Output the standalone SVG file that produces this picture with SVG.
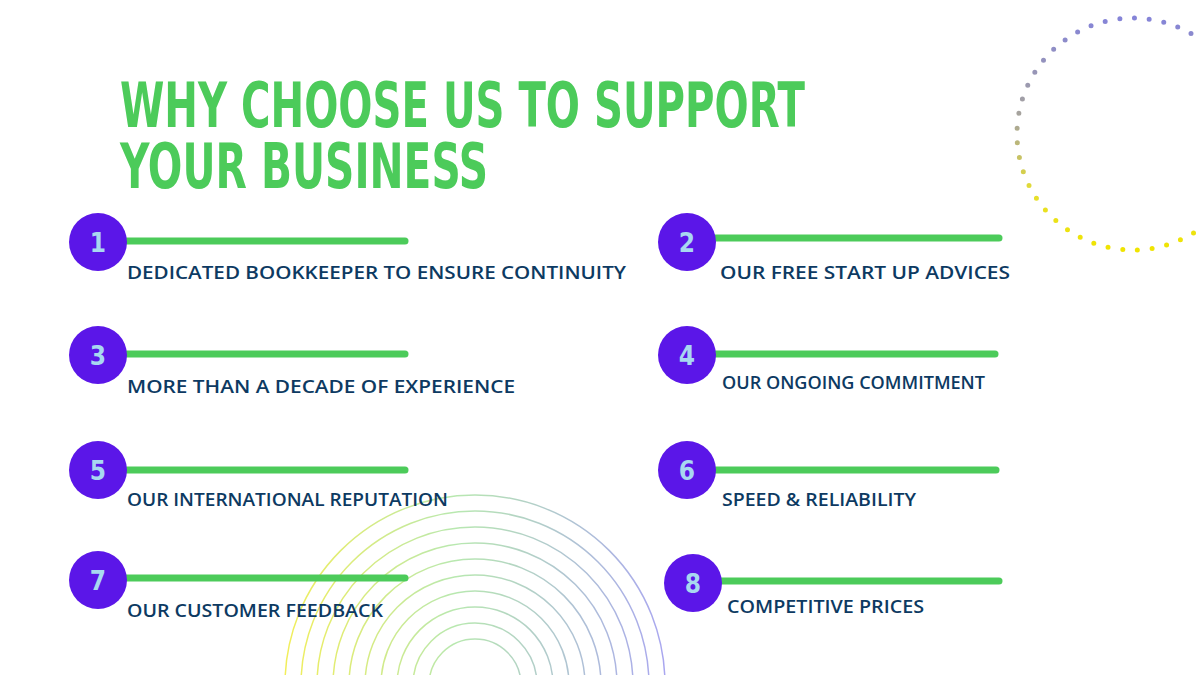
<svg xmlns="http://www.w3.org/2000/svg" width="1200" height="675" viewBox="0 0 1200 675">
<defs>
<linearGradient id="arcg" x1="285" y1="0" x2="665" y2="0" gradientUnits="userSpaceOnUse">
<stop offset="0" stop-color="#f2ee5a"/><stop offset="0.45" stop-color="#b8e8b0"/><stop offset="1" stop-color="#a9a6f0"/>
</linearGradient>
<linearGradient id="dotg" x1="0" y1="18" x2="0" y2="250" gradientUnits="userSpaceOnUse">
<stop offset="0" stop-color="#8584d8"/><stop offset="0.45" stop-color="#a9a698"/><stop offset="0.75" stop-color="#e6df30"/><stop offset="1" stop-color="#f0e400"/>
</linearGradient>
<style>
.t{font-family:"DejaVu Sans Condensed","DejaVu Sans",sans-serif;font-weight:bold;fill:#4ccb5a;font-size:62px}
.c{fill:#5b16e8}
.n{font-family:"DejaVu Sans Condensed","DejaVu Sans",sans-serif;font-weight:bold;fill:#a8d8f0;font-size:26px;text-anchor:middle}
.l{stroke:#4ccb5a;stroke-width:7;stroke-linecap:round}
.x{font-family:"Open Sans",sans-serif;font-weight:600;fill:#0d3a62;font-size:17.5px}
.a{fill:none;stroke:url(#arcg);stroke-width:1.5}
</style>
</defs>
<rect width="1200" height="675" fill="#fff"/>
<g id="decor">
<g class="a">
<circle cx="475" cy="685" r="190"/><circle cx="475" cy="685" r="174"/><circle cx="475" cy="685" r="158"/><circle cx="475" cy="685" r="142"/><circle cx="475" cy="685" r="126"/><circle cx="475" cy="685" r="110"/><circle cx="475" cy="685" r="94"/><circle cx="475" cy="685" r="78"/><circle cx="475" cy="685" r="62"/><circle cx="475" cy="685" r="46"/>
</g>
<circle cx="1133" cy="134" r="116" fill="none" stroke="url(#dotg)" stroke-width="5" stroke-linecap="round" stroke-dasharray="0 14.8"/>
</g>
<g id="title">
<text class="t" x="120" y="127" textLength="685" lengthAdjust="spacingAndGlyphs">WHY CHOOSE US TO SUPPORT</text>
<text class="t" x="120" y="188" textLength="368" lengthAdjust="spacingAndGlyphs">YOUR BUSINESS</text>
</g>
<g id="connectors">
<line class="l" x1="120" y1="241" x2="405" y2="241"/>
<line class="l" x1="710" y1="238" x2="999" y2="238"/>
<line class="l" x1="120" y1="354" x2="405" y2="354"/>
<line class="l" x1="710" y1="354" x2="995" y2="354"/>
<line class="l" x1="120" y1="470" x2="405" y2="470"/>
<line class="l" x1="710" y1="470" x2="996" y2="470"/>
<line class="l" x1="120" y1="578" x2="405" y2="578"/>
<line class="l" x1="715" y1="581" x2="999" y2="581"/>
</g>
<g id="n1"><circle class="c" cx="98" cy="242" r="29"/><text class="n" x="98" y="252">1</text><text class="x" x="127" y="279" textLength="499" lengthAdjust="spacingAndGlyphs">DEDICATED BOOKKEEPER TO ENSURE CONTINUITY</text></g>
<g id="n2"><circle class="c" cx="687" cy="242" r="29"/><text class="n" x="687" y="252">2</text><text class="x" x="720" y="279" textLength="290" lengthAdjust="spacingAndGlyphs">OUR FREE START UP ADVICES</text></g>
<g id="n3"><circle class="c" cx="98" cy="355" r="29"/><text class="n" x="98" y="365">3</text><text class="x" x="127" y="393" textLength="388" lengthAdjust="spacingAndGlyphs">MORE THAN A DECADE OF EXPERIENCE</text></g>
<g id="n4"><circle class="c" cx="687" cy="355" r="29"/><text class="n" x="687" y="365">4</text><text class="x" x="722" y="389" textLength="263" lengthAdjust="spacingAndGlyphs">OUR ONGOING COMMITMENT</text></g>
<g id="n5"><circle class="c" cx="98" cy="470" r="29"/><text class="n" x="98" y="480">5</text><text class="x" x="127" y="506" textLength="321" lengthAdjust="spacingAndGlyphs">OUR INTERNATIONAL REPUTATION</text></g>
<g id="n6"><circle class="c" cx="687" cy="470" r="29"/><text class="n" x="687" y="480">6</text><text class="x" x="722" y="506" textLength="194" lengthAdjust="spacingAndGlyphs">SPEED &amp; RELIABILITY</text></g>
<g id="n7"><circle class="c" cx="98" cy="580" r="29"/><text class="n" x="98" y="590">7</text><text class="x" x="127" y="617" textLength="256" lengthAdjust="spacingAndGlyphs">OUR CUSTOMER FEEDBACK</text></g>
<g id="n8"><circle class="c" cx="693" cy="583" r="29"/><text class="n" x="693" y="593">8</text><text class="x" x="727" y="613" textLength="197" lengthAdjust="spacingAndGlyphs">COMPETITIVE PRICES</text></g>
</svg>
